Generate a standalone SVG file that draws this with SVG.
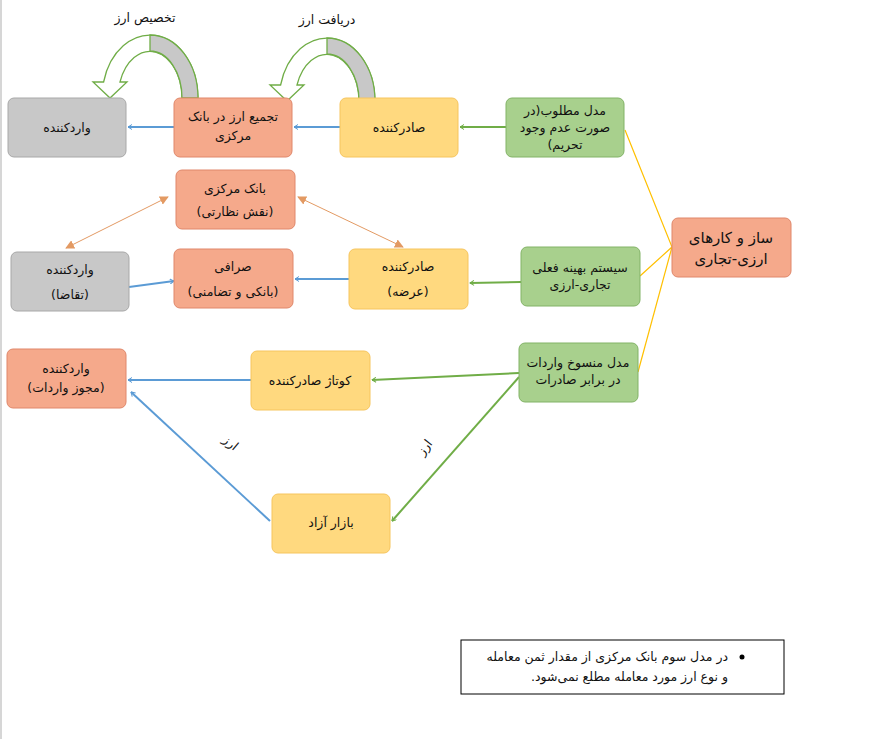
<svg xmlns="http://www.w3.org/2000/svg" width="891" height="739" viewBox="0 0 891 739">
<style>
text{font-family:"DejaVu Sans","Noto Sans",sans-serif;font-size:12.5px;fill:#111;text-anchor:middle;direction:rtl}
.s{fill:#F5A98B;stroke:#E0876A}
.y{fill:#FFD97F;stroke:#F6C55E}
.g{fill:#A8D08D;stroke:#82B366}
.gr{fill:#C8C8C8;stroke:#A8A8A8}
.b{stroke:#5B9BD5;stroke-width:2;fill:none;marker-end:url(#ab)}
.gn{stroke:#70AD47;stroke-width:2;fill:none;marker-end:url(#ag)}
.o{stroke:#E39A63;stroke-width:1;fill:none;marker-start:url(#ao);marker-end:url(#ao)}
.yl{stroke:#FFC000;stroke-width:1.2;fill:none}
</style>
<defs>
<marker id="ab" viewBox="0 0 10 10" refX="9" refY="5" markerWidth="5" markerHeight="6" orient="auto" markerUnits="userSpaceOnUse"><path d="M1,0 L9,5 L1,10" fill="none" stroke="#5B9BD5" stroke-width="2"/></marker>
<marker id="ag" viewBox="0 0 10 10" refX="9" refY="5" markerWidth="5" markerHeight="6" orient="auto" markerUnits="userSpaceOnUse"><path d="M1,0 L9,5 L1,10" fill="none" stroke="#70AD47" stroke-width="2"/></marker>
<marker id="ao" viewBox="0 0 10 10" refX="9" refY="5" markerWidth="9" markerHeight="9" orient="auto-start-reverse" markerUnits="userSpaceOnUse"><path d="M0,0 L10,5 L0,10 Z" fill="#E39A63"/></marker>
<g id="curl"><path d="M198,98 A48,63 0 0 0 103.6,82 L93,82 L110,98 L127,82 L120,82 A32,47 0 0 1 182,98 Z" fill="#fff" stroke="#70AD47" stroke-width="1.3"/><path d="M150,35 A48,63 0 0 1 198,98 L182,98 A32,47 0 0 0 150,51 Z" fill="#C8C8C8" stroke="#70AD47" stroke-width="1.3"/></g>
</defs>
<rect width="891" height="739" fill="#fff"/>
<line x1="1" y1="0" x2="1" y2="739" stroke="#C8C8C8" stroke-width="1.5"/>
<g id="curls">
<use href="#curl"/>
<use href="#curl" transform="translate(177,3)"/>
<text x="145" y="22">تخصیص ارز</text>
<text x="327" y="24">دریافت ارز</text>
</g>
<g id="connectors">
<line class="b" x1="340" y1="127" x2="294" y2="127"/>
<line class="b" x1="174" y1="127" x2="128" y2="127"/>
<line class="gn" x1="506" y1="127" x2="460" y2="127"/>
<line class="o" x1="168" y1="197" x2="66" y2="248"/>
<line class="o" x1="298" y1="197" x2="403" y2="247"/>
<line class="b" x1="349" y1="279" x2="295" y2="279"/>
<line class="b" x1="129" y1="287" x2="174" y2="281"/>
<line class="gn" x1="521" y1="282" x2="470" y2="283"/>
<polyline class="yl" points="625,130 672,247 640,276"/>
<line class="yl" x1="672" y1="247" x2="638" y2="372"/>
<line class="gn" x1="519" y1="373" x2="372" y2="380"/>
<line class="gn" x1="519" y1="377" x2="392" y2="521"/>
<line class="b" x1="251" y1="380" x2="128" y2="380"/>
<line class="b" x1="270" y1="521" x2="131" y2="392"/>
<text x="428" y="450" transform="rotate(-52 428 450)">ارز</text>
<text x="228" y="446" transform="rotate(40 228 446)">ارز</text>
</g>
<g id="n1"><rect class="gr" x="8" y="98" width="118" height="59" rx="6"/><text x="67" y="132">واردکننده</text></g>
<g id="n2"><rect class="s" x="174" y="98" width="118" height="59" rx="6"/><text x="233" y="121">تجمیع ارز در بانک</text><text x="233" y="140">مرکزی</text></g>
<g id="n3"><rect class="y" x="340" y="98" width="118" height="59" rx="6"/><text x="399" y="132">صادرکننده</text></g>
<g id="n4"><rect class="g" x="506" y="98" width="118" height="59" rx="6"/><text x="565" y="115">مدل مطلوب(در</text><text x="565" y="132">صورت عدم وجود</text><text x="565" y="149">تحریم)</text></g>
<g id="n5"><rect class="s" x="176" y="170" width="119" height="59" rx="6"/><text x="235" y="193">بانک مرکزی</text><text x="235" y="216">(نقش نظارتی)</text></g>
<g id="n6"><rect class="gr" x="11" y="252" width="118" height="59" rx="6"/><text x="70" y="274">واردکننده</text><text x="70" y="299">(تقاضا)</text></g>
<g id="n7"><rect class="s" x="174" y="249" width="119" height="59" rx="6"/><text x="233" y="271">صرافی</text><text x="233" y="296">(بانکی و تضامنی)</text></g>
<g id="n8"><rect class="y" x="349" y="249" width="119" height="60" rx="6"/><text x="408" y="271">صادرکننده</text><text x="408" y="296">(عرضه)</text></g>
<g id="n9"><rect class="g" x="521" y="247" width="119" height="59" rx="6"/><text x="580" y="272">سیستم بهینه فعلی</text><text x="580" y="289">تجاری-ارزی</text></g>
<g id="hub"><rect class="s" x="672" y="218" width="119" height="59" rx="6"/><text x="731" y="243" style="font-size:15px">ساز و کارهای</text><text x="731" y="264" style="font-size:15px">ارزی-تجاری</text></g>
<g id="n10"><rect class="s" x="7" y="349" width="119" height="59" rx="6"/><text x="66" y="373">واردکننده</text><text x="66" y="392">(مجوز واردات)</text></g>
<g id="n11"><rect class="y" x="251" y="351" width="119" height="59" rx="6"/><text x="310" y="385">کوتاژ صادرکننده</text></g>
<g id="n12"><rect class="g" x="519" y="343" width="119" height="59" rx="6"/><text x="578" y="367">مدل منسوخ واردات</text><text x="578" y="384">در برابر صادرات</text></g>
<g id="n13"><rect class="y" x="272" y="494" width="118" height="59" rx="6"/><text x="331" y="527">بازار آزاد</text></g>
<g id="note"><rect x="461" y="640" width="323" height="54" fill="#fff" stroke="#000" stroke-width="1"/><circle cx="742" cy="657" r="2.5" fill="#000"/><text x="728" y="661" style="text-anchor:start">در مدل سوم بانک مرکزی از مقدار ثمن معامله</text><text x="728" y="681" style="text-anchor:start">و نوع ارز مورد معامله مطلع نمی‌شود.</text></g>
</svg>
